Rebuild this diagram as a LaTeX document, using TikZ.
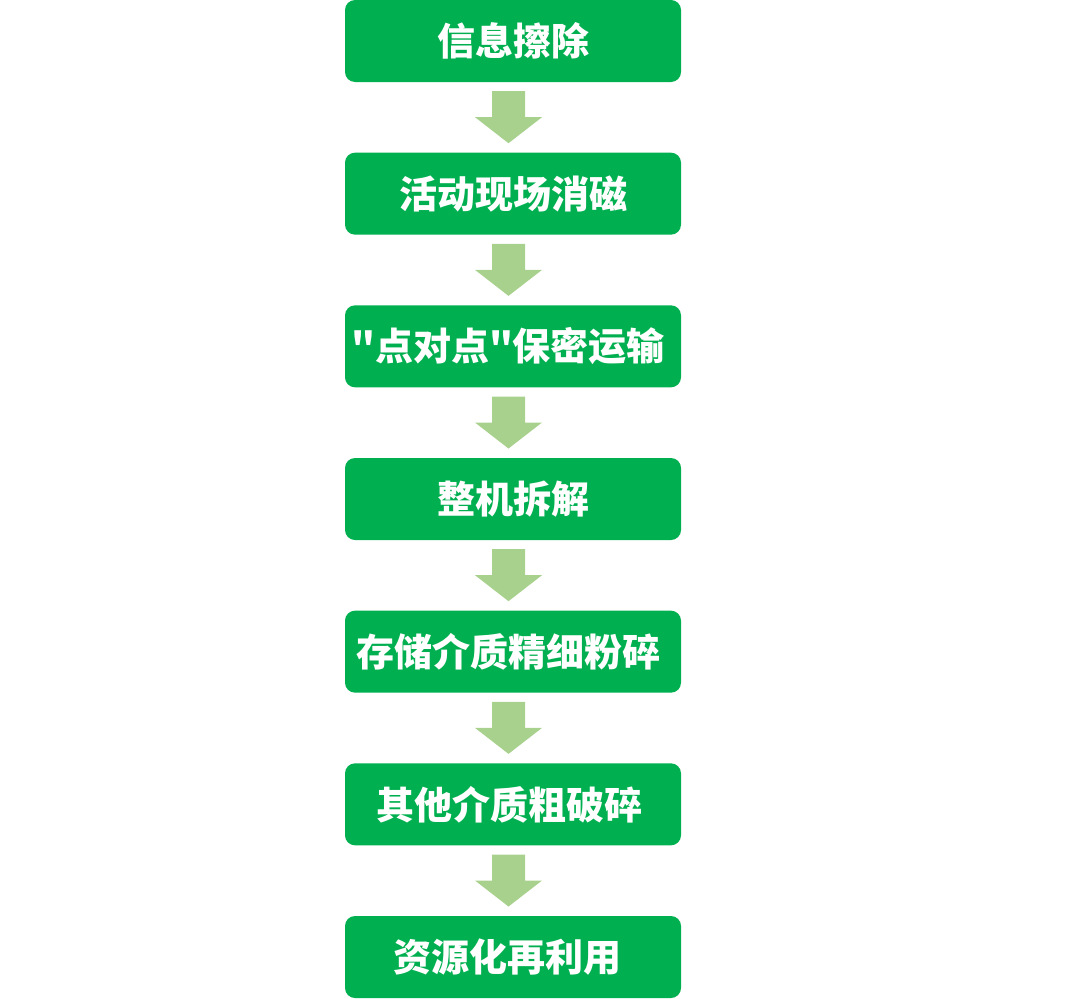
\documentclass[tikz,border=0pt]{standalone}
\usepackage{fontspec}
\newfontfamily\cjk{Noto Sans CJK SC}
\usepackage{tikz}

\definecolor{boxgreen}{HTML}{00B050}
\definecolor{arrowgreen}{HTML}{A9D18E}

\tikzset{
  stepbox/.style={fill=boxgreen, rounded corners=10pt, minimum width=336pt,
    minimum height=82pt, inner sep=0pt, text=white,
    font=\cjk\bfseries\fontsize{38}{40}\selectfont},
  downarrow/.pic={
    \fill[arrowgreen] (-16.5,0) -- (16.5,0) -- (16.5,-26) -- (33.5,-26)
      -- (0,-52) -- (-33.5,-26) -- (-16.5,-26) -- cycle;
  }
}

\begin{document}
\begin{tikzpicture}[x=1pt,y=1pt]
			\useasboundingbox (0,0) rectangle (1091,-998);

			\node[stepbox] (s1) at (513,-41) {信息擦除};
			\node[stepbox] (s2) at (513,-193.67) {活动现场消磁};
			\node[stepbox] (s3) at (513,-346.33) {"点对点"保密运输\kern10pt};
			\node[stepbox] (s4) at (513,-499) {整机拆解};
			\node[stepbox] (s5) at (513,-651.67) {存储介质精细粉碎\kern10pt};
			\node[stepbox] (s6) at (513,-804.33) {其他介质粗破碎\kern8pt};
			\node[stepbox] (s7) at (513,-957) {资源化再利用\kern11pt};

			\pic at ([shift={(-4.5,-9)}]s1.south) {downarrow};
			\pic at ([shift={(-4.5,-9)}]s2.south) {downarrow};
			\pic at ([shift={(-4.5,-9)}]s3.south) {downarrow};
			\pic at ([shift={(-4.5,-9)}]s4.south) {downarrow};
			\pic at ([shift={(-4.5,-9)}]s5.south) {downarrow};
			\pic at ([shift={(-4.5,-9)}]s6.south) {downarrow};
		\end{tikzpicture}
\end{document}
